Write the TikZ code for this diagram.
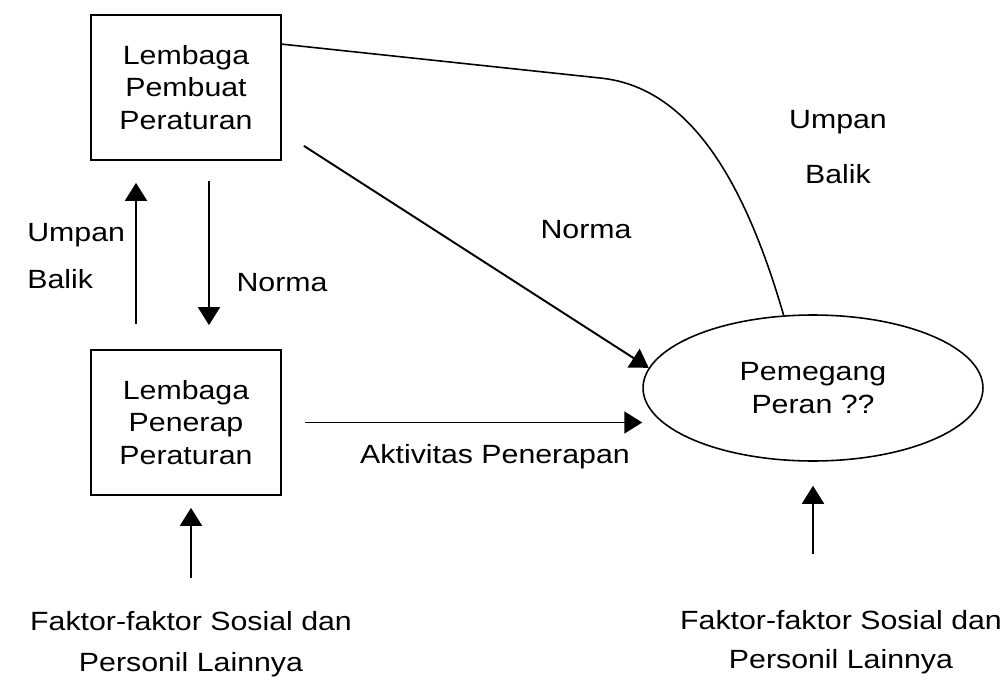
\documentclass[tikz,border=0pt]{standalone}
\usepackage{fontspec}
\setmainfont{Liberation Sans}[FakeStretch=1.15]
\usetikzlibrary{arrows.meta,shapes.geometric}

\begin{document}
\begin{tikzpicture}[
	x=0.02cm, y=-0.02cm,
	font=\fontsize{15}{18.5}\selectfont,
	box/.style={ rectangle, draw, line width=1pt, align=center, minimum width=3.8cm, minimum height=2.9cm, inner sep=0pt },
	oval/.style={ ellipse, draw, line width=0.9pt, align=center, minimum width=6.8cm, minimum height=2.92cm, inner sep=0pt },
	lbl/.style={ inner sep=0pt, align=center },
	arr/.style={ line width=1.1pt, -{Triangle[width=0.44cm,length=0.36cm]} }
]

\useasboundingbox (0,0) rectangle (1006,689);

\node[box] at (186,87.5) (lpb) {Lembaga\\Pembuat\\Peraturan};
\node[box] at (186,422.5) (lpn) {Lembaga\\Penerap\\Peraturan};
\node[oval] at (813,388) (pem) {Pemegang\\Peran ??};

\node[lbl, align=left, anchor=west] at (27,256) (ubl) {Umpan\\[8pt]Balik};
\node[lbl] at (282,283) (nrl) {Norma};
\node[lbl] at (586,230) (nrm) {Norma};
\node[lbl] at (838,147) (ubr) {Umpan\\[12.5pt]Balik};
\node[lbl] at (495,457) (akt) {Aktivitas Penerapan};
\node[lbl] at (191,644) (fsl1) {Faktor-faktor Sosial dan\\[5pt]Personil Lainnya};
\node[lbl] at (841,642) (fsl2) {Faktor-faktor Sosial dan\\[4pt]Personil Lainnya};

\draw[arr, shorten <=0.5cm, shorten >=0.44cm] ([xshift=-1cm]lpn.north) -- ([xshift=-1cm]lpb.south);
\draw[arr, shorten <=0.4cm, shorten >=0.48cm] ([xshift=0.46cm]lpb.south) -- ([xshift=0.46cm]lpn.north);
\draw[arr] ([shift={(22,-15)}]lpb.south east) -- (pem.173);
\draw[arr, shorten <=0.46cm] (lpn.east) -- (lpn.east -| pem.west);
\draw[line width=0.9pt] ([yshift=-0.6cm]lpb.north east) -- (600,78) .. controls (690,87) and (745,182) .. (pem.112);

\draw[arr, shorten <=0.66cm, shorten >=0.24cm] (fsl1.north) -- (fsl1.north |- lpn.south);
\draw[arr, shorten <=1.12cm, shorten >=0.48cm] (pem.south |- fsl2.north) -- (pem.south);

\end{tikzpicture}
\end{document}
